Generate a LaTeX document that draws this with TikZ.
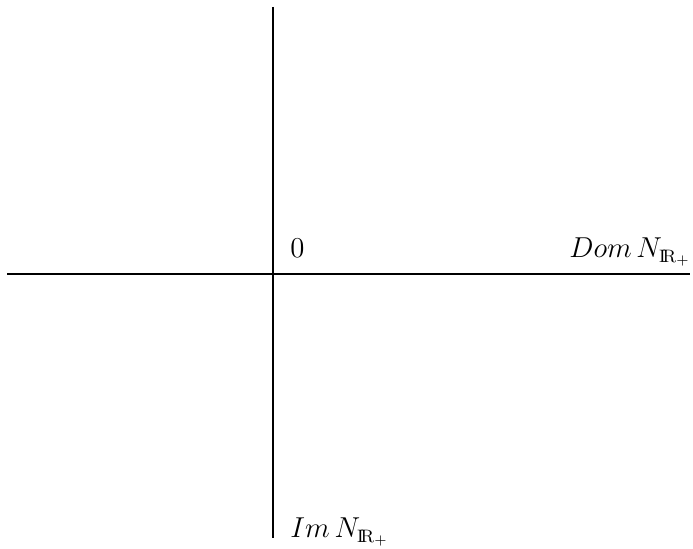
\documentclass[tikz,border=0pt]{standalone}
\usepackage{amsmath}
\begin{document}
\begin{tikzpicture}[x=0.5pt,y=-0.5pt,
  thinaxis/.style={line width=0.75pt,black},
  thickaxis/.style={line width=1.3pt,black},
  lbl/.style={inner sep=0pt,font=\fontsize{13.5}{16}\selectfont}]
\useasboundingbox (0,0) rectangle (693,549);
\coordinate (O) at (273,274);
\coordinate (L) at (7,274);
\coordinate (R) at (690,274);
\coordinate (T) at (273,7);
\coordinate (B) at (273,538);
\draw[thinaxis] (L) -- (O);
\draw[thinaxis] (T) -- (O);
\draw[thickaxis] (O) -- (R);
\draw[thickaxis] (O) -- (B);
\node[lbl,anchor=base west] (zero) at (290,258) {$0$};
\node[lbl,anchor=base east] (dom) at (691,258) {$Dom\,N_{\mathrm{I\!R}_+}$};
\node[lbl,anchor=base west] (im) at (290,538) {$Im\,N_{\mathrm{I\!R}_+}$};
\end{tikzpicture}
\end{document}
